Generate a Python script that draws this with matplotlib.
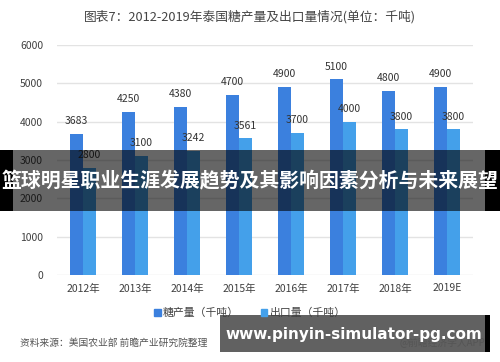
import numpy as np
import matplotlib.pyplot as plt
from matplotlib.patches import Patch, Rectangle

plt.rcParams['font.family'] = ['Noto Sans CJK SC', 'DejaVu Sans']

years = ['2012年', '2013年', '2014年', '2015年', '2016年', '2017年', '2018年', '2019E']
output = [3683, 4250, 4380, 4700, 4900, 5100, 4800, 4900]
export = [2800, 3100, 3242, 3561, 3700, 4000, 3800, 3800]

c_out = '#3b80de'
c_exp = '#44a0ea'

fig = plt.figure(figsize=(5, 3.62), dpi=100)
ax = fig.add_axes([0.114, 0.240, 0.832, 0.636])

x = np.arange(len(years))
w = 0.25
b1 = ax.bar(x - w/2, output, w, color=c_out)
b2 = ax.bar(x + w/2, export, w, color=c_exp)
for bars in (b1, b2):
    for b in bars:
        ax.text(b.get_x() + b.get_width()/2, b.get_height() + 200, str(int(b.get_height())),
                ha='center', va='bottom', fontsize=7.5, color='#333333')

ax.set_xlim(-0.5, 7.5)
ax.set_ylim(0, 6000)
ax.set_yticks(range(0, 6001, 1000))
ax.set_xticks(x)
ax.set_xticklabels(years)
ax.tick_params(length=0, labelsize=7.5, colors='#404040')
ax.tick_params(axis='y', pad=10)
ax.tick_params(axis='x', pad=6)
ax.grid(axis='y', color='#e3e3e3', lw=1)
ax.set_axisbelow(True)
for s in ax.spines.values():
    s.set_visible(False)

fig.text(0.5, 0.955, '图表7：2012-2019年泰国糖产量及出口量情况(单位：千吨)',
         ha='center', va='center', fontsize=9.2, color='#444444')

handles = [Patch(color=c_out, label='糖产量（千吨）'), Patch(color=c_exp, label='出口量（千吨）')]
fig.legend(handles=handles, loc='center', bbox_to_anchor=(0.5, 0.135), ncol=2, frameon=False,
           fontsize=7.8, handlelength=0.6, handleheight=0.6, handletextpad=0.2, columnspacing=2.0,
           labelcolor='#404040')

fig.text(0.04, 0.052, '资料来源：美国农业部 前瞻产业研究院整理', ha='left', va='center',
         fontsize=7, color='#555555', style='italic')
fig.text(0.97, 0.052, '@前瞻经济学人APP', ha='right', va='center', fontsize=7, color='#555555')

# overlay banner
W, H = 500, 362
def px(x0, y0, x1, y1):
    return (x0 / W, 1 - y1 / H), (x1 - x0) / W, (y1 - y0) / H

for (x0, y0, x1, y1), col, a in [((0, 150, 13, 211), 'black', 1.0),
                                 ((485, 150, 500, 211), 'black', 1.0),
                                 ((13, 150, 485, 211), 'black', 0.6),
                                 ((485, 315, 490, 352), 'black', 1.0),
                                 ((220, 315, 485, 352), 'black', 0.62)]:
    xy, ww, hh = px(x0, y0, x1, y1)
    fig.patches.append(Rectangle(xy, ww, hh, transform=fig.transFigure, color=col, alpha=a, lw=0))

fig.text(0.5, 1 - 181 / H, '篮球明星职业生涯发展趋势及其影响因素分析与未来展望',
         ha='center', va='center', fontsize=14.3, color='white', fontweight='bold')
fig.text(354 / W, 1 - 334 / H, 'www.pinyin-simulator-pg.com',
         ha='center', va='center', fontsize=11, color='white', fontweight='bold',
         family='DejaVu Sans')

fig.savefig('out.png', dpi=100)
